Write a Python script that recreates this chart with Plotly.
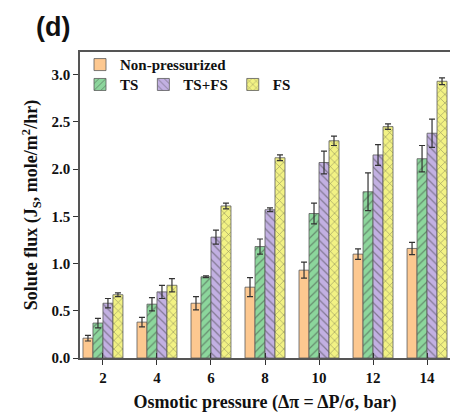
import plotly.graph_objects as go

pressure = [2, 4, 6, 8, 10, 12, 14]

non_pressurized = [0.21, 0.38, 0.58, 0.75, 0.93, 1.10, 1.16]
non_pressurized_err = [0.03, 0.05, 0.07, 0.10, 0.085, 0.055, 0.065]

ts = [0.37, 0.57, 0.86, 1.18, 1.53, 1.76, 2.11]
ts_err = [0.05, 0.07, 0.01, 0.08, 0.11, 0.20, 0.14]

ts_fs = [0.58, 0.70, 1.28, 1.57, 2.07, 2.15, 2.38]
ts_fs_err = [0.05, 0.07, 0.075, 0.02, 0.12, 0.11, 0.15]

fs = [0.67, 0.77, 1.61, 2.12, 2.30, 2.45, 2.93]
fs_err = [0.02, 0.07, 0.03, 0.03, 0.05, 0.03, 0.035]

series = [
    ("Non-pressurized", non_pressurized, non_pressurized_err, "#FDC890", "", "legend"),
    ("TS", ts, ts_err, "#8CD69C", "/", "legend2"),
    ("TS+FS", ts_fs, ts_fs_err, "#C2B0E2", "\\", "legend2"),
    ("FS", fs, fs_err, "#F2F284", "x", "legend2"),
]

serif = "Liberation Serif"
fig = go.Figure()
for name, vals, errs, color, shape, leg in series:
    fig.add_trace(go.Bar(
        x=pressure, y=vals, name=name, legend=leg,
        marker=dict(
            color=color,
            line=dict(color="#5a5a5a", width=0.8),
            pattern=dict(shape=shape, fgcolor="#3f3f3f", size=6, solidity=0.2),
        ),
        error_y=dict(type="data", array=errs, color="#333333", thickness=1.2, width=3),
    ))

# invisible companion axis so x ticks cross the axis line
fig.add_trace(go.Scatter(x=[pressure[0]], y=[0], xaxis="x2", mode="markers",
                         marker=dict(opacity=0), showlegend=False, hoverinfo="skip"))

fig.update_layout(
    width=450, height=418,
    margin=dict(l=80, r=0, t=52, b=60),
    plot_bgcolor="white", paper_bgcolor="white",
    barmode="group", bargap=0.26, bargroupgap=0,
    font=dict(family=serif, color="#111111"),
    xaxis=dict(
        range=[1.15, 14.85], tickvals=pressure, ticks="outside", ticklen=5,
        tickwidth=1.2, tickcolor="#333", showline=True, linecolor="#555",
        linewidth=1.5, mirror=True, showgrid=False, zeroline=False,
        tickfont=dict(size=15, family=serif, weight="bold"),
        title=dict(text="Osmotic pressure (Δπ = ΔP/σ, bar)", standoff=11,
                   font=dict(size=18, family=serif, weight="bold")),
    ),
    xaxis2=dict(
        overlaying="x", matches="x", anchor="y", side="bottom",
        tickvals=pressure, ticks="inside", ticklen=5, tickwidth=1.2,
        tickcolor="#333", showticklabels=False, showline=False,
        showgrid=False, zeroline=False,
    ),
    yaxis=dict(
        range=[0, 3.24], tickvals=[0, 0.5, 1.0, 1.5, 2.0, 2.5, 3.0],
        ticktext=["0.0", "0.5", "1.0", "1.5", "2.0", "2.5", "3.0"],
        ticks="outside", ticklen=5, tickwidth=1.2, tickcolor="#333",
        showline=True, linecolor="#555", linewidth=1.5, showgrid=False,
        zeroline=False, tickfont=dict(size=15, family=serif, weight="bold"),
        title=dict(text="Solute flux (J<sub>S</sub>, mole/m<sup>2</sup>/hr)", standoff=9,
                   font=dict(size=18, family=serif, weight="bold")),
    ),
    legend=dict(
        x=0.0, y=1.012, xanchor="left", yanchor="top", bgcolor="rgba(0,0,0,0)",
        font=dict(size=15, family=serif, weight="bold"), tracegroupgap=0,
        itemwidth=30,
    ),
    legend2=dict(
        x=0.0, y=0.947, xanchor="left", yanchor="top", orientation="h",
        bgcolor="rgba(0,0,0,0)", font=dict(size=15, family=serif, weight="bold"),
        itemwidth=30,
    ),
    annotations=[dict(
        text="<b>(d)</b>", x=(53 - 80) / 370, y=(358 - 27) / 306,
        xref="paper", yref="paper", xanchor="center", yanchor="middle",
        showarrow=False, font=dict(size=27, family="Liberation Sans", color="#111"),
    )],
)

fig.write_html("out.html")
